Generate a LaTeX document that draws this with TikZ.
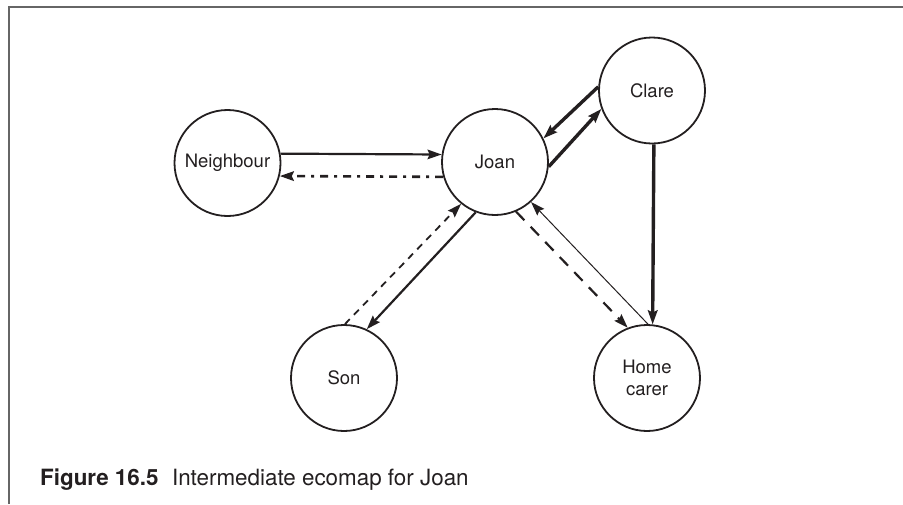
\documentclass[tikz,border=0pt]{standalone}
\usepackage{fontspec}
\setmainfont{TeX Gyre Heros}
\usetikzlibrary{arrows.meta}
\definecolor{ink}{HTML}{231F20}
\definecolor{framegray}{HTML}{666666}
\begin{document}
\begin{tikzpicture}[x=1pt,y=-1pt,
  person/.style={circle, draw=ink, line width=1.8pt, minimum size=106pt,
    inner sep=0pt, font=\fontsize{18.5}{22}\selectfont, text=ink, align=center},
  tip/.style={-{Stealth[length=14pt,width=9.5pt,inset=2pt]}},
  strong/.style={tip, draw=ink, line width=3.4pt},
  normal/.style={tip, draw=ink, line width=2.2pt},
  weak/.style={tip, draw=ink, line width=1pt},
  shortdash/.style={tip, draw=ink, line width=1.8pt, dash pattern=on 7pt off 6pt},
  longdash/.style={tip, draw=ink, line width=2.2pt, dash pattern=on 12pt off 9pt},
  dashdot/.style={tip, draw=ink, line width=2.6pt, dash pattern=on 8pt off 6pt on 3pt off 6pt}]
\useasboundingbox (0,0) rectangle (903,504);
% frame
\draw[framegray, line width=2pt] (9,504) -- (9,7) -- (903,7);
% people
\node[person] (N) at (227.5,163) {Neighbour};
\node[person] (J) at (495,162) {Joan};
\node[person] (C) at (652,90.5) {Clare};
\node[person] (S) at (344,378) {Son};
\node[person] (H) at (647,378) {Home\\carer};
% relationships
\draw[normal] (N.10.6) -- (J.172.5);
\draw[dashdot] (J.196.5) -- (N.346);
\draw[strong] (C.176) -- (J.26.6);
\draw[strong] (J.355) -- (C.200);
\draw[shortdash] (S.89) -- (J.231);
\draw[normal] (J.249) -- (S.65.7);
\draw[longdash] (J.293.7) -- (H.111);
\draw[weak] (H.89) -- (J.312.8);
\draw[strong] (C.272) -- (H.84);
% caption
\node[anchor=base west, inner sep=0pt, text=ink, font=\fontsize{22.4}{26}\selectfont] (cap) at (40,485)
  {\textbf{Figure 16.5}\hspace{0.6em}Intermediate ecomap for Joan};
\end{tikzpicture}
\end{document}
